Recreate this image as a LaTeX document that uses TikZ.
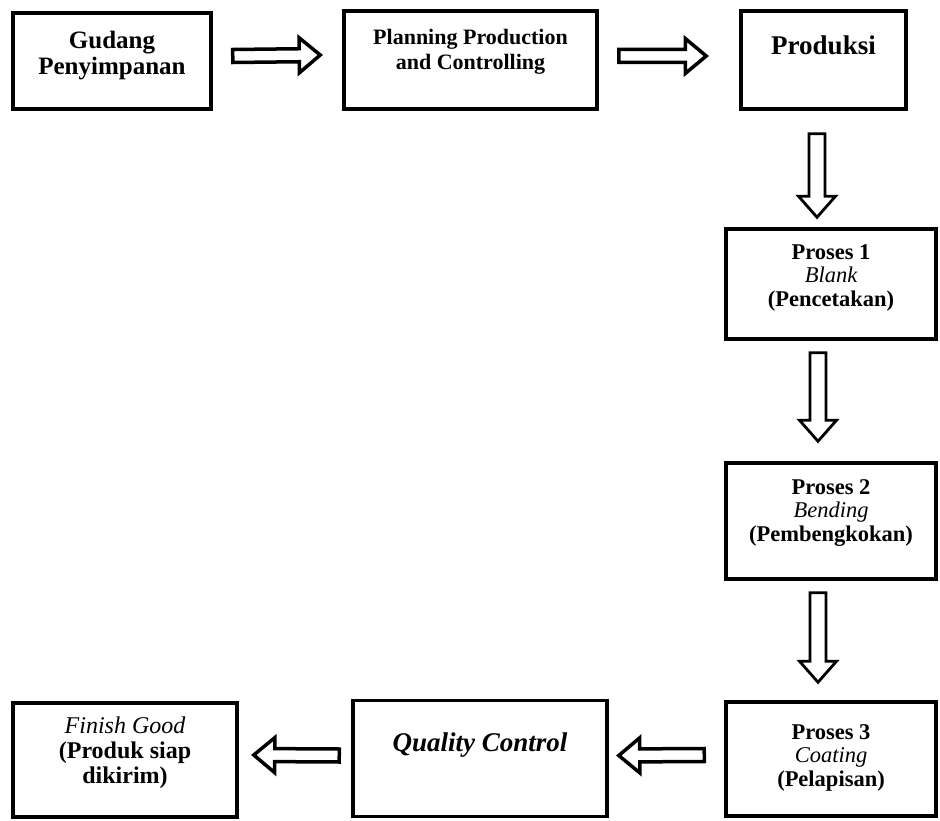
\documentclass[tikz,border=0pt]{standalone}
\usepackage{fontspec}
\setmainfont{Liberation Serif}
\usepackage{tikz}
\usetikzlibrary{calc, positioning}
\tikzstyle{box} = [rectangle, draw, line width=3.5pt, fill=white, inner sep=0pt, text centered, font=\bfseries]
\tikzstyle{blockarrow} = [line width=3.5pt, fill=white, line join=miter]
\tikzstyle{downarrow} = [line width=2.8pt, fill=white, line join=miter]
% lines of a box, lifted a little above the middle
\newcommand{\boxlines}[2]{\raisebox{#1}[\height][\depth]{\begin{tabular}{@{}c@{}}#2\end{tabular}}}
% hollow block arrow: style, start, end, shaft half width, head half width, head length
\newcommand{\hollowarrow}[6][blockarrow]{%
    \coordinate (ha-s) at (#2);
    \coordinate (ha-e) at (#3);
    \coordinate (ha-h) at ($(ha-e)!#6!(ha-s)$);
    \draw[#1] ($(ha-s)!#4!90:(ha-e)$) -- ($(ha-h)!#4!-90:(ha-s)$) -- ($(ha-h)!#5!-90:(ha-s)$)
        -- (ha-e) -- ($(ha-h)!#5!90:(ha-s)$) -- ($(ha-h)!#4!90:(ha-s)$) -- ($(ha-s)!#4!-90:(ha-e)$) -- cycle;
}

\begin{document}
\begin{tikzpicture}[x=1pt, y=-1pt]
    \useasboundingbox (0,0) rectangle (940,821);

    % Top row
    \node[box, minimum width=198pt, minimum height=96pt, font=\bfseries\fontsize{25}{26}\selectfont] (gudang) at (112, 61) {
        \boxlines{5pt}{Gudang\\ Penyimpanan}
    };
    \node[box, minimum width=253pt, minimum height=98pt, font=\bfseries\fontsize{22}{25}\selectfont] (ppc) at (470.5, 60) {
        \boxlines{8pt}{Planning Production\\ and Controlling}
    };
    \node[box, minimum width=165pt, minimum height=98pt, font=\bfseries\fontsize{27}{28}\selectfont] (produksi) at (823.5, 60) {
        \boxlines{11pt}{Produksi}
    };

    % Process column
    \node[box, minimum width=210pt, minimum height=110pt, font=\bfseries\fontsize{22.5}{23.5}\selectfont] (proses1) at (831, 284) {
        \boxlines{6pt}{Proses 1\\ {\mdseries\itshape Blank}\\ (Pencetakan)}
    };
    \node[box, minimum width=210pt, minimum height=116pt, font=\bfseries\fontsize{22.5}{23.5}\selectfont] (proses2) at (831, 521) {
        \boxlines{8pt}{Proses 2\\ {\mdseries\itshape Bending}\\ (Pembengkokan)}
    };
    \node[box, minimum width=210pt, minimum height=114pt, font=\bfseries\fontsize{22.5}{23.5}\selectfont] (proses3) at (831, 759) {
        \boxlines{1pt}{Proses 3\\ {\mdseries\itshape Coating}\\ (Pelapisan)}
    };

    % Bottom row
    \node[box, minimum width=254pt, minimum height=116pt, font=\bfseries\itshape\fontsize{27}{28}\selectfont] (qc) at (480, 758.5) {
        \boxlines{13pt}{Quality Control}
    };
    \node[box, minimum width=224pt, minimum height=114pt, font=\bfseries\fontsize{24}{25}\selectfont] (finish) at (125, 760) {
        \boxlines{7pt}{{\mdseries\itshape Finish Good}\\ (Produk siap\\ dikirim)}
    };

    % Flow arrows
    \hollowarrow{$(gudang.east)+(20,-5)$}{$(ppc.west)+(-22,-5)$}{6.5pt}{17.5pt}{21pt}
    \hollowarrow{$(ppc.east)+(20,-4)$}{$(produksi.west)+(-33,-4)$}{6.5pt}{17.5pt}{21pt}
    \hollowarrow[downarrow]{$(produksi.south)+(-6.5,23)$}{$(proses1.north)+(-14,-10)$}{8pt}{18.5pt}{21pt}
    \hollowarrow[downarrow]{$(proses1.south)+(-13,12)$}{$(proses2.north)+(-13,-20)$}{8pt}{18.5pt}{21pt}
    \hollowarrow[downarrow]{$(proses2.south)+(-13,12)$}{$(proses3.north)+(-13,-18)$}{8pt}{18.5pt}{21pt}
    \hollowarrow{$(proses3.west)+(-20,-4)$}{$(qc.east)+(10,-3)$}{6.5pt}{17.5pt}{21pt}
    \hollowarrow{$(qc.west)+(-12,-3)$}{$(finish.east)+(15,-5)$}{6.5pt}{17.5pt}{21pt}
\end{tikzpicture}
\end{document}
